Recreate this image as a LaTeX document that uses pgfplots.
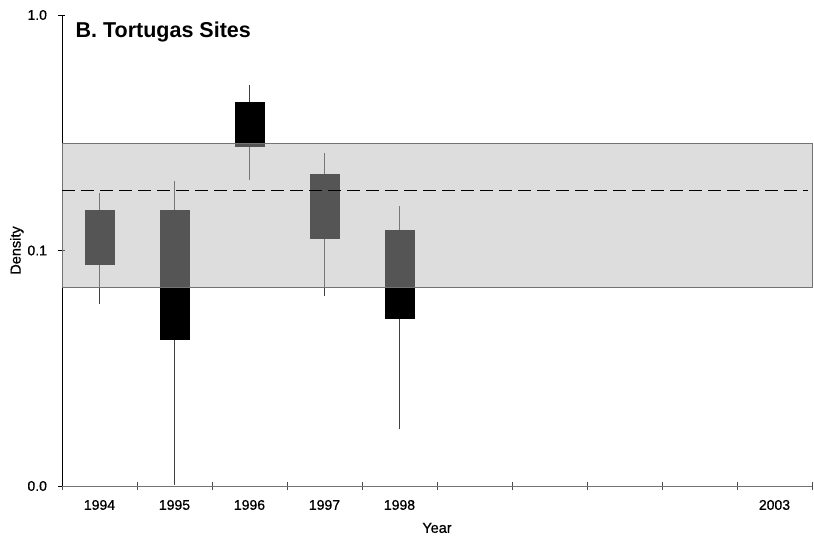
\documentclass[border=0pt]{standalone}
\usepackage{pgfplots}
\pgfplotsset{compat=1.18}
\usepackage{fontspec}
\setmainfont{Liberation Sans}
\newfontfamily\heavyfont{Liberation Sans}[FakeBold=0.8]
\definecolor{bandc}{RGB}{182,182,182}
\begin{document}
\begin{tikzpicture}
\begin{axis}[
  scale only axis, width=750pt, height=471pt,
  ymode=log, ymin=0.01, ymax=1,
  xmin=-0.5, xmax=9.5,
  axis x line*=bottom, axis y line*=left,
  axis line style={-},
  x axis line style={draw=black!55, line width=1pt},
  y axis line style={draw=black, line width=0.9pt},
  xtick={0,1,2,3,4,9},
  xticklabels={1994,1995,1996,1997,1998,2003},
  major x tick style={draw=none},
  minor xtick={-0.5,0.5,...,9.5},
  minor x tick style={draw=black!70, line width=0.8pt},
  minor tick length=8pt,
  ytick={0.01,0.1,1},
  yticklabels={0.0,0.1,1.0},
  major y tick style={draw=black, line width=0.8pt},
  minor y tick style={draw=none},
  major tick length=7pt,
  tick align=center,
  /pgf/number format/assume math mode=true,
  tick label style={font=\fontsize{14}{16}\heavyfont},
  xticklabel style={yshift=-7pt},
  yticklabel style={xshift=-8pt},
  xlabel={Year}, ylabel={Density},
  label style={font=\fontsize{14.5}{16}\heavyfont},
  xlabel style={yshift=-6pt},
  ylabel style={yshift=-3pt},
  clip=false,
]
% whiskers (lower whisker to upper whisker)
\addplot [draw=black!75, line width=0.8pt] coordinates {(0,0.0591) (0,0.176)};
\addplot [draw=black!75, line width=0.8pt] coordinates {(1,0.0101) (1,0.198)};
\addplot [draw=black!75, line width=0.8pt] coordinates {(2,0.200) (2,0.502)};
\addplot [draw=black!75, line width=0.8pt] coordinates {(3,0.064) (3,0.260)};
\addplot [draw=black!75, line width=0.8pt] coordinates {(4,0.0174) (4,0.155)};
% boxes (lower quartile to upper quartile)
\addplot [fill=black, draw=black] coordinates {(-0.193,0.0875) (0.193,0.0875) (0.193,0.148) (-0.193,0.148)} -- cycle;
\addplot [fill=black, draw=black] coordinates {(0.807,0.0419) (1.193,0.0419) (1.193,0.148) (0.807,0.148)} -- cycle;
\addplot [fill=black, draw=black] coordinates {(1.807,0.277) (2.193,0.277) (2.193,0.425) (1.807,0.425)} -- cycle;
\addplot [fill=black, draw=black] coordinates {(2.807,0.1124) (3.193,0.1124) (3.193,0.210) (2.807,0.210)} -- cycle;
\addplot [fill=black, draw=black] coordinates {(3.807,0.0516) (4.193,0.0516) (4.193,0.122) (3.807,0.122)} -- cycle;
% reference band
\addplot [fill=bandc, fill opacity=0.47, draw=black!55, line width=0.9pt] coordinates {(-0.5,0.0697) (9.5,0.0697) (9.5,0.284) (-0.5,0.284)} -- cycle;
% mean line
\addplot [black, line width=1.6pt, dash pattern=on 13pt off 6pt] coordinates {(-0.5,0.1795) (9.45,0.1795)};
\node[anchor=west, font=\fontsize{21.5}{23}\selectfont\bfseries] at (rel axis cs:0.0135,0.964) {B. Tortugas Sites};
\end{axis}
\path (current axis.south west) ++(-62pt,-50pt) coordinate (bl);
\path (current axis.north east) ++(2pt,15pt) coordinate (tr);
\useasboundingbox (bl) rectangle (tr);
\end{tikzpicture}
\end{document}
